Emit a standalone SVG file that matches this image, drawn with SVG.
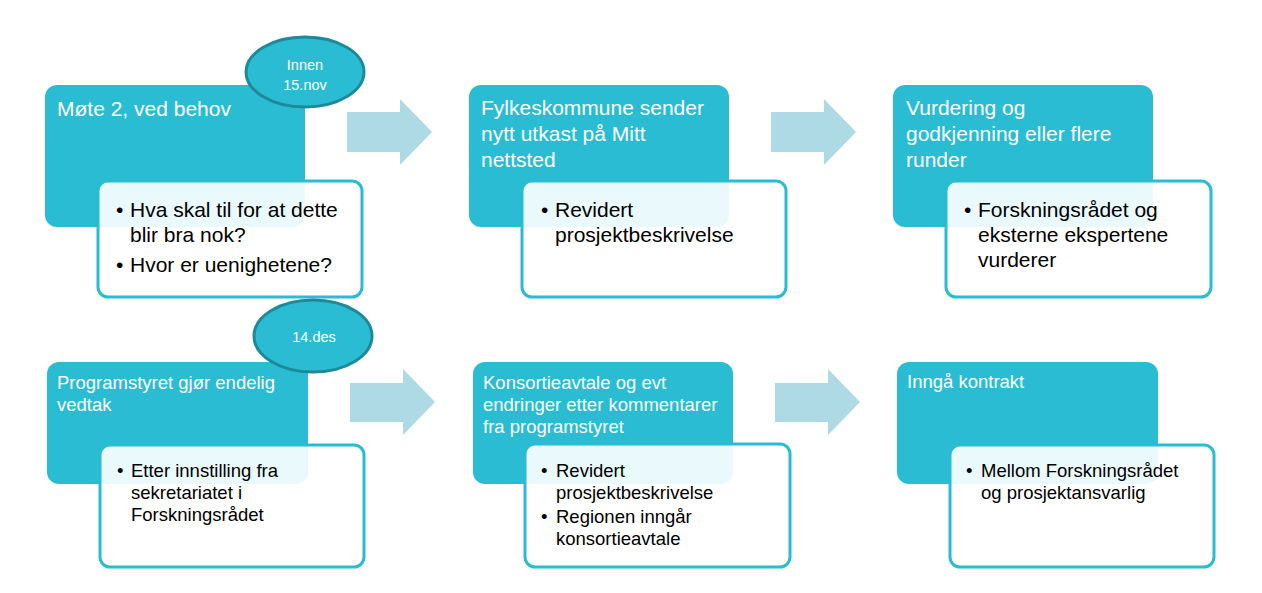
<svg xmlns="http://www.w3.org/2000/svg" width="1262" height="593" viewBox="0 0 1262 593">
<style>
.dark{fill:#29BCD2}
.sub{fill:#FFFFFF;fill-opacity:0.9;stroke:#29BCD2;stroke-width:3}
.ell{fill:#29BCD2;stroke:#1D8A9B;stroke-width:3}
.arrow{fill:#ADDAE4}
.t1{font-family:"Liberation Sans",Arial,sans-serif;font-size:21px;fill:#FFFFFF}
.t2{font-family:"Liberation Sans",Arial,sans-serif;font-size:18.5px;fill:#FFFFFF}
.b1{font-family:"Liberation Sans",Arial,sans-serif;font-size:21px;fill:#000000}
.b2{font-family:"Liberation Sans",Arial,sans-serif;font-size:18.5px;fill:#000000}
.e{font-family:"Liberation Sans",Arial,sans-serif;font-size:14.5px;fill:#FFFFFF;text-anchor:middle}
</style>
<rect width="1262" height="593" fill="#FFFFFF"/>
<g id="connectors">
<polygon class="arrow" points="347,112 400,112 400,99 432,132 400,165 400,152 347,152"/>
<polygon class="arrow" points="771,112 824,112 824,99 856,132 824,165 824,152 771,152"/>
<polygon class="arrow" points="350,383 403,383 403,369 435,402 403,435 403,422 350,422"/>
<polygon class="arrow" points="775,383 828,383 828,369 860,402 828,435 828,422 775,422"/>
</g>
<g id="node1">
<rect class="dark" x="45" y="85" width="260" height="142" rx="12"/>
<rect class="sub" x="98" y="181" width="264" height="116" rx="10"/>
<text class="t1" x="57" y="116">Møte 2, ved behov</text>
<text class="b1" x="116" y="217">•</text>
<text class="b1" x="130" y="217">Hva skal til for at dette</text>
<text class="b1" x="130" y="242">blir bra nok?</text>
<text class="b1" x="116" y="272">•</text>
<text class="b1" x="130" y="272">Hvor er uenighetene?</text>
</g>
<g id="date1">
<ellipse class="ell" cx="305" cy="72" rx="59" ry="35"/>
<text class="e" x="305" y="70">Innen</text>
<text class="e" x="305" y="90">15.nov</text>
</g>
<g id="node2">
<rect class="dark" x="469" y="85" width="260" height="142" rx="12"/>
<rect class="sub" x="522" y="181" width="264" height="116" rx="10"/>
<text class="t1" x="481" y="115">Fylkeskommune sender</text>
<text class="t1" x="481" y="141">nytt utkast på Mitt</text>
<text class="t1" x="481" y="167">nettsted</text>
<text class="b1" x="541" y="217">•</text>
<text class="b1" x="555" y="217">Revidert</text>
<text class="b1" x="555" y="242">prosjektbeskrivelse</text>
</g>
<g id="node3">
<rect class="dark" x="893" y="85" width="260" height="142" rx="12"/>
<rect class="sub" x="946" y="181" width="265" height="116" rx="10"/>
<text class="t1" x="906" y="115">Vurdering og</text>
<text class="t1" x="906" y="141">godkjenning eller flere</text>
<text class="t1" x="906" y="167">runder</text>
<text class="b1" x="964" y="217">•</text>
<text class="b1" x="978" y="217">Forskningsrådet og</text>
<text class="b1" x="978" y="242">eksterne ekspertene</text>
<text class="b1" x="978" y="267">vurderer</text>
</g>
<g id="node4">
<rect class="dark" x="47" y="362" width="261" height="122" rx="12"/>
<rect class="sub" x="100" y="445" width="264" height="122" rx="10"/>
<text class="t2" x="57" y="389">Programstyret gjør endelig</text>
<text class="t2" x="57" y="411">vedtak</text>
<text class="b2" x="117" y="477">•</text>
<text class="b2" x="131" y="477">Etter innstilling fra</text>
<text class="b2" x="131" y="499">sekretariatet i</text>
<text class="b2" x="131" y="521">Forskningsrådet</text>
</g>
<g id="date2">
<ellipse class="ell" cx="313" cy="336" rx="59" ry="36"/>
<text class="e" x="314" y="342">14.des</text>
</g>
<g id="node5">
<rect class="dark" x="473" y="362" width="260" height="122" rx="12"/>
<rect class="sub" x="525" y="444" width="265" height="123" rx="10"/>
<text class="t2" x="483" y="389">Konsortieavtale og evt</text>
<text class="t2" x="483" y="411">endringer etter kommentarer</text>
<text class="t2" x="483" y="433">fra programstyret</text>
<text class="b2" x="541" y="477">•</text>
<text class="b2" x="556" y="477">Revidert</text>
<text class="b2" x="556" y="499">prosjektbeskrivelse</text>
<text class="b2" x="541" y="523">•</text>
<text class="b2" x="556" y="523">Regionen inngår</text>
<text class="b2" x="556" y="545">konsortieavtale</text>
</g>
<g id="node6">
<rect class="dark" x="897" y="362" width="261" height="122" rx="12"/>
<rect class="sub" x="950" y="445" width="264" height="122" rx="10"/>
<text class="t2" x="907" y="388">Inngå kontrakt</text>
<text class="b2" x="966" y="477">•</text>
<text class="b2" x="981" y="477">Mellom Forskningsrådet</text>
<text class="b2" x="981" y="499">og prosjektansvarlig</text>
</g>
</svg>
